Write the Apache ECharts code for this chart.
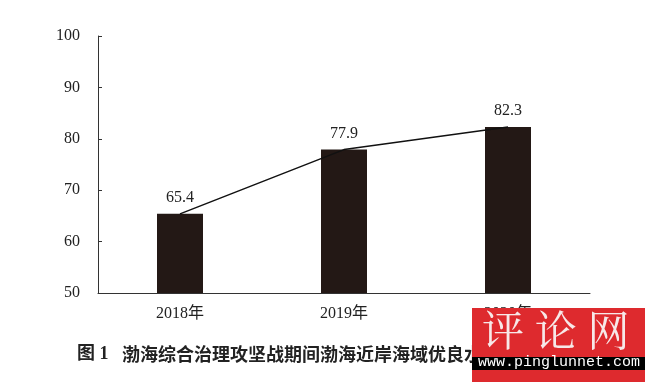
<!DOCTYPE html>
<html><head><meta charset="utf-8">
<script src="https://cdn.jsdelivr.net/npm/echarts@6/dist/echarts.min.js"></script>
<style>html,body{margin:0;padding:0;background:#fff}#c{width:650px;height:388px}</style>
</head><body><div id="c"></div>
<script>
const categories = ['2018年', '2019年', '2020年'];
const values = [65.4, 77.9, 82.3];
const yTicks = { min: 50, max: 100, interval: 10 };
const titleText = '渤海综合治理攻坚战期间渤海近岸海域优良水质比例';

const chart = echarts.init(document.getElementById('c'));
const serif = '"Liberation Serif", "Times New Roman", serif';
chart.setOption({
  animation: false,
  grid: { left: 98, right: 60, top: 36, bottom: 95 },
  xAxis: {
    type: 'category', data: categories, boundaryGap: true,
    axisLine: { lineStyle: { color: '#333', width: 1 } },
    axisTick: { inside: true, length: 4, lineStyle: { color: '#333' } },
    axisLabel: { color: '#222', fontFamily: serif + ', "Noto Sans CJK SC"', fontSize: 16, margin: 13 }
  },
  yAxis: {
    type: 'value', min: yTicks.min, max: yTicks.max, interval: yTicks.interval,
    splitLine: { show: false },
    axisLine: { show: true, lineStyle: { color: '#333', width: 1 } },
    axisTick: { show: true, inside: true, length: 4, lineStyle: { color: '#333' } },
    axisLabel: { color: '#222', fontFamily: serif, fontSize: 16, margin: 18 }
  },
  series: [
    {
      type: 'bar', data: values, barWidth: 46,
      itemStyle: { color: '#231815' },
      label: { show: true, position: 'top', distance: 8, color: '#222', fontFamily: serif, fontSize: 16 },
      z: 2
    },
    {
      type: 'line', data: values, symbol: 'none',
      lineStyle: { color: '#111', width: 1.5 }, z: 3
    }
  ],
  graphic: [
    { type: 'text', left: 77, top: 345, style: { text: '图 1', font: 'bold 18px "Liberation Serif", "Noto Sans CJK SC"', fill: '#222' } },
    { type: 'text', left: 122, top: 345, style: { text: titleText, font: 'bold 18px "Noto Sans CJK SC"', fill: '#222' } },
    { type: 'rect', shape: { x: 472, y: 308, width: 173, height: 74 }, style: { fill: '#de2a2e' }, z: 100 },
    { type: 'text', x: 482, y: 309, style: { text: '评 论 网', font: '42px "Noto Serif CJK SC", "Noto Sans CJK SC"', fill: '#f7e8e8' }, z: 101 },
    { type: 'rect', shape: { x: 472, y: 357, width: 173, height: 13 }, style: { fill: '#000' }, z: 101 },
    { type: 'text', x: 478, y: 355, style: { text: 'www.pinglunnet.com', font: '15px "Liberation Mono", monospace', fill: '#fff' }, z: 102 }
  ]
});
</script></body></html>
